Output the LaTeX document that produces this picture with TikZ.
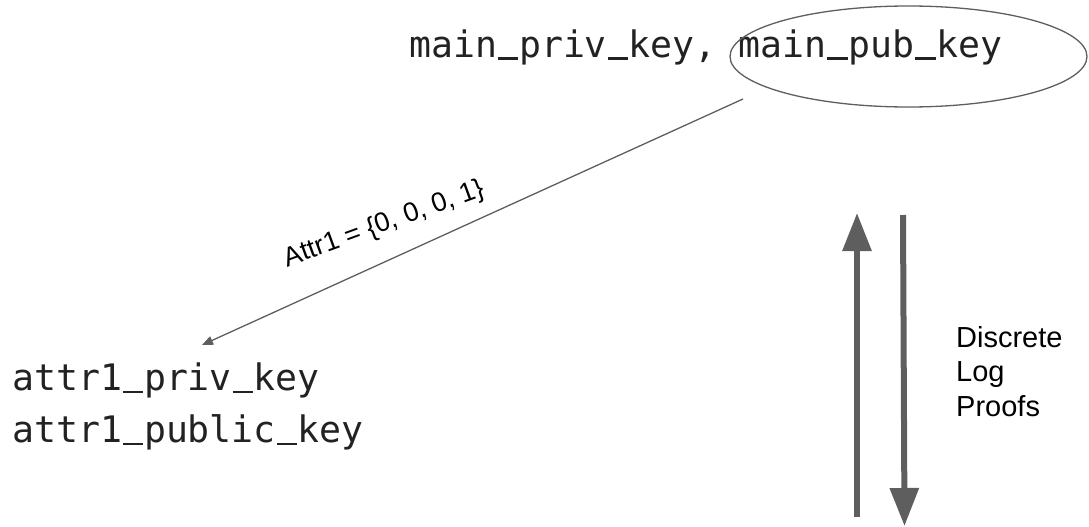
\documentclass[tikz,border=0pt]{standalone}
\usepackage{fontspec}
\setmainfont{Liberation Sans}
\newfontfamily\keyfont{DejaVu Sans Mono}
\usetikzlibrary{arrows.meta}
\definecolor{linegray}{HTML}{5E5E5E}
\definecolor{keyink}{HTML}{222222}
% underscore as a rule, one monospace cell wide
\newcommand{\us}{\hbox to \fontcharwd\font`x{\hss\rule[-0.07em]{0.56em}{0.065em}\hss}}
\tikzset{
  keytext/.style={inner sep=0pt, anchor=base west, text=keyink,
    font=\keyfont\fontsize{36.5}{44}\selectfont},
  sanstext/.style={inner sep=0pt, anchor=base west, text=black,
    font=\fontsize{29}{35}\selectfont},
  thinarrow/.style={draw=linegray, line width=1.3pt,
    -{Triangle[width=9pt,length=11pt]}},
  thickarrow/.style={draw=linegray, line width=6pt,
    -{Triangle[width=28pt,length=38pt]}},
  keyring/.style={draw=linegray, line width=1.3pt}
}
\begin{document}
\begin{tikzpicture}[x=1pt,y=-1pt]
  \path[use as bounding box] (0,0) rectangle (1089,527);

  % master key pair, public part circled
  \node[keytext] (mainkeys) at (409,57) {main\us priv\us key, main\us pub\us key};
  \draw[keyring] (908.5,56.5) ellipse [x radius=178.5, y radius=50.5];
  \coordinate (ringfoot) at (743,99);

  % derived attribute key pair
  \node[keytext] (attrpriv) at (12,390.7) {attr1\us priv\us key};
  \node[keytext] (attrpub) at (12,442.7) {attr1\us public\us key};
  \coordinate (attrhead) at (202,345);

  \draw[thinarrow] (ringfoot) -- (attrhead);
  \node[inner sep=0pt, anchor=base, rotate=20,
        font=\fontsize{27}{30}\selectfont] (attrlabel) at (387,231)
        {Attr1 = \{0, 0, 0, 1\}};

  % proof exchange
  \coordinate (upfoot) at (857,517);
  \coordinate (uptip) at (857,213);
  \coordinate (downtop) at (903,215);
  \coordinate (downtip) at (904.5,526);
  \draw[thickarrow] (upfoot) -- (uptip);
  \draw[thickarrow] (downtop) -- (downtip);

  \node[sanstext] (dl1) at (956,347) {Discrete};
  \node[sanstext] (dl2) at (956,381.5) {Log};
  \node[sanstext] (dl3) at (956,416.5) {Proofs};
\end{tikzpicture}
\end{document}
